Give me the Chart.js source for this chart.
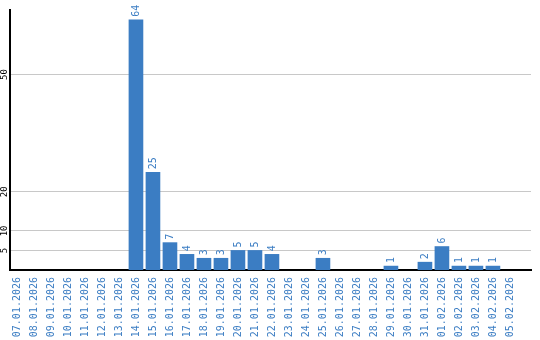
<!DOCTYPE html>
<html>
<head>
<meta charset="utf-8">
<script src="https://cdn.jsdelivr.net/npm/chart.js@4/dist/chart.umd.min.js"></script>
<style>
  html, body { margin: 0; padding: 0; background: #fff; }
  #wrap { width: 540px; height: 340px; position: relative; }
</style>
</head>
<body>
<div id="wrap"><canvas id="chart"></canvas></div>
<script>
'use strict';

// ── Data ─────────────────────────────────────────────────────────────────────
const dates = [
  '07.01.2026', '08.01.2026', '09.01.2026', '10.01.2026', '11.01.2026',
  '12.01.2026', '13.01.2026', '14.01.2026', '15.01.2026', '16.01.2026',
  '17.01.2026', '18.01.2026', '19.01.2026', '20.01.2026', '21.01.2026',
  '22.01.2026', '23.01.2026', '24.01.2026', '25.01.2026', '26.01.2026',
  '27.01.2026', '28.01.2026', '29.01.2026', '30.01.2026', '31.01.2026',
  '01.02.2026', '02.02.2026', '03.02.2026', '04.02.2026', '05.02.2026'
];
const counts = [
  0, 0, 0, 0, 0,
  0, 0, 64, 25, 7,
  4, 3, 3, 5, 5,
  4, 0, 0, 3, 0,
  0, 0, 1, 0, 2,
  6, 1, 1, 1, 0
];
const yTicks = [5, 10, 20, 50];

const BLUE = '#3b7dc3';
const MONO = '"DejaVu Sans Mono", "Liberation Mono", monospace';

// ── Value labels above bars ──────────────────────────────────────────────────
const valueLabels = {
  id: 'valueLabels',
  afterDatasetsDraw(chart) {
    const ctx = chart.ctx;
    const meta = chart.getDatasetMeta(0);
    ctx.save();
    ctx.fillStyle = BLUE;
    ctx.font = '10px ' + MONO;
    ctx.textAlign = 'left';
    ctx.textBaseline = 'middle';
    meta.data.forEach((bar, i) => {
      if (!counts[i]) return;
      ctx.save();
      ctx.translate(bar.x + 0.5, bar.y - 3);
      ctx.rotate(-Math.PI / 2);
      ctx.fillText(String(counts[i]), 0, 0);
      ctx.restore();
    });
    ctx.restore();
  }
};

// ── Chart ────────────────────────────────────────────────────────────────────
new Chart(document.getElementById('chart'), {
  type: 'bar',
  data: {
    datasets: [{
      data: counts.map((v, i) => ({ x: i, y: v || null })),
      backgroundColor: BLUE,
      borderWidth: 0,
      barThickness: 14,
    }],
  },
  options: {
    responsive: true,
    maintainAspectRatio: false,
    animation: false,
    layout: { padding: { top: 10, right: 9, left: 0, bottom: 0 } },
    plugins: {
      legend: { display: false },
      tooltip: { enabled: false },
    },
    scales: {
      x: {
        type: 'linear',
        offset: false,
        min: -0.41,
        max: 30.24,
        grid: { display: false, drawTicks: false, offset: false },
        border: { display: true, color: '#000', width: 2 },
        afterBuildTicks: s => { s.ticks = dates.map((d, i) => ({ value: i })); },
        afterFit: s => { s.height = 70; },
        ticks: {
          autoSkip: false,
          minRotation: 90,
          maxRotation: 90,
          padding: 7,
          color: BLUE,
          font: { family: MONO, size: 10 },
          callback: v => dates[v] ?? '',
        },
      },
      y: {
        min: 0,
        max: 66.5,
        grid: { color: '#c8c8c8', drawTicks: false },
        border: { display: true, color: '#000', width: 2 },
        afterBuildTicks: s => { s.ticks = yTicks.map(v => ({ value: v })); },
        afterFit: s => { s.width = 10; },
        ticks: {
          minRotation: 90,
          maxRotation: 90,
          crossAlign: 'center',
          padding: 0,
          color: '#000',
          font: { family: MONO, size: 9 },
        },
      },
    },
  },
  plugins: [valueLabels],
});
</script>
</body>
</html>
